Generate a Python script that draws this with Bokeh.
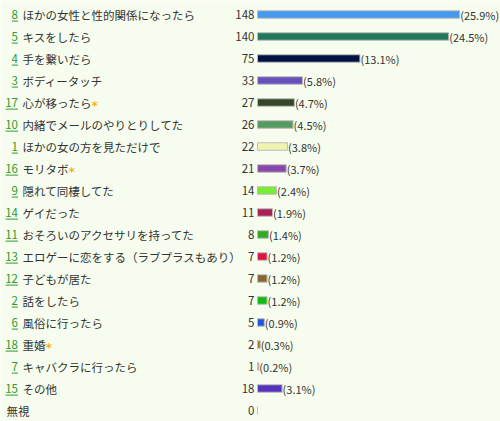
from bokeh.plotting import figure
from bokeh.models import Range1d, ColumnDataSource
from bokeh.core.properties import value
from bokeh.embed import file_html
from bokeh.resources import INLINE

# ---- data ----
ranks = ["8", "5", "4", "3", "17", "10", "1", "16", "9", "14", "11", "13",
         "12", "2", "6", "18", "7", "15", ""]
labels = ["ほかの女性と性的関係になったら", "キスをしたら", "手を繋いだら", "ボディータッチ",
          "心が移ったら", "内緒でメールのやりとりしてた", "ほかの女の方を見ただけで", "モリタボ",
          "隠れて同棲してた", "ゲイだった", "おそろいのアクセサリを持ってた",
          "エロゲーに恋をする（ラブプラスもあり）", "子どもが居た", "話をしたら",
          "風俗に行ったら", "重婚", "キャバクラに行ったら", "その他", "無視"]
votes = [148, 140, 75, 33, 27, 26, 22, 21, 14, 11, 8, 7, 7, 7, 5, 2, 1, 18, 0]
percents = ["25.9", "24.5", "13.1", "5.8", "4.7", "4.5", "3.8", "3.7", "2.4", "1.9",
            "1.4", "1.2", "1.2", "1.2", "0.9", "0.3", "0.2", "3.1", ""]
starred = [False, False, False, False, True, False, False, True, False, False,
           False, False, False, False, False, True, False, False, False]
colors = ["#4499ee", "#22775a", "#001144", "#6650bb", "#354728", "#559a5f",
          "#eef4b0", "#8848aa", "#77ee33", "#aa2255", "#33aa22", "#dd1144",
          "#886633", "#11bb11", "#2255dd", "#aa7733", "#dd8899", "#5533bb", "#dddddd"]

BG = "#f6fdee"
TXT = "#333333"
LINK = "#2e9a2e"
FONT = value("Noto Sans CJK JP")

n = len(labels)
rows = list(range(n))
src = ColumnDataSource(dict(
    y=rows, v=votes, color=colors, label=labels, rank=ranks,
    vtxt=[str(v) for v in votes],
    ptxt=[f"({p}%)" if p else "" for p in percents],
))

W, H = 500, 421
PX = 1.366          # pixels per vote
ORIGIN = 257        # bar origin, pixels from the left
TOP = 14            # first row centre, pixels from the top
STEP = 22           # row pitch, pixels
p = figure(width=W, height=H, output_backend="svg", toolbar_location=None,
           x_range=Range1d(-ORIGIN / PX, (W - ORIGIN) / PX),
           y_range=Range1d((H - TOP) / STEP, -TOP / STEP),
           x_axis_location=None, y_axis_location=None,
           min_border=0, background_fill_color=BG, border_fill_color=BG,
           outline_line_color=None)
p.grid.visible = False
p.extra_x_ranges = {"px": Range1d(0, W)}

# bars
p.hbar(y="y", left=0, right="v", height=0.34, fill_color="color",
       line_color="#bcbcbc", line_width=1, source=src)

# rank numbers (green, underlined)
p.text(x=17.5, y="y", text="rank", source=src, x_range_name="px",
       text_align="right", text_baseline="middle", text_font=FONT,
       text_font_size="11.5px", text_color=LINK)
ux0, ux1, uy = [], [], []
for i, r in enumerate(ranks):
    if r:
        ux0.append(17.5 - 6.2 * len(r))
        ux1.append(17.5)
        uy.append(i + 0.3)
p.segment(x0=ux0, x1=ux1, y0=uy, y1=uy, x_range_name="px",
          line_color=LINK, line_width=1)

# labels
src.data["labx"] = [6 if not r else 22 for r in ranks]
p.text(x="labx", y="y", text="label", source=src, x_range_name="px",
       text_align="left", text_baseline="middle", text_font=FONT,
       text_font_size="11.5px", text_color=TXT)

# stars after some labels
sx, sy = [], []
for i, s in enumerate(starred):
    if s:
        sx.append(22 + 11.5 * len(labels[i]))
        sy.append(i)
p.text(x=sx, y=sy, text=["*"] * len(sx), x_range_name="px",
       text_align="left", text_baseline="middle", text_font=value("DejaVu Sans"),
       text_font_size="13px", text_color="#f5a000", y_offset=3)

# vote counts
p.text(x=0, y="y", text="vtxt", source=src, x_offset=-3,
       text_align="right", text_baseline="middle", text_font=FONT,
       text_font_size="11.5px", text_color=TXT)

# percentages
p.text(x="v", y="y", text="ptxt", source=src, x_offset=0.5,
       text_align="left", text_baseline="middle", text_font=FONT,
       text_font_size="11px", text_color=TXT)

open("out.html", "w").write(file_html(p, INLINE))
